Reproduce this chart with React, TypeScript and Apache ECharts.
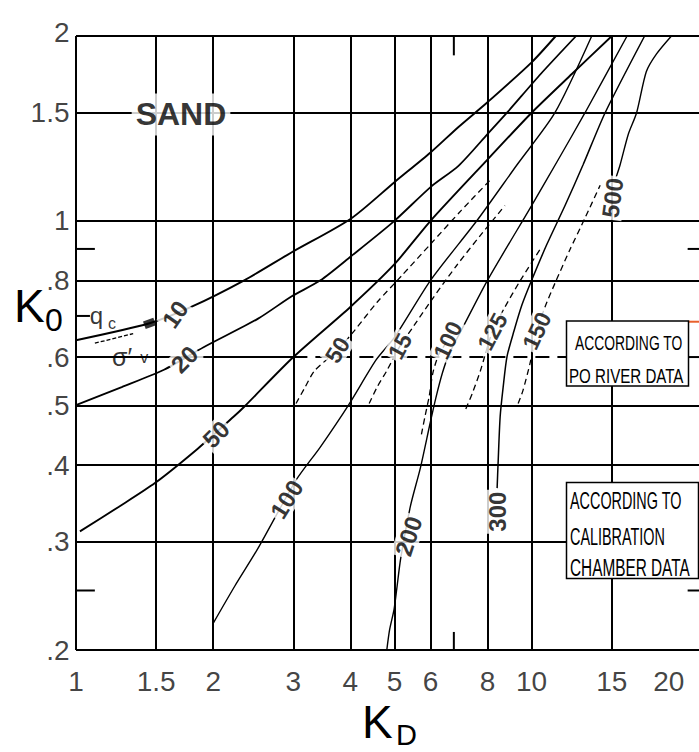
import React, { useEffect, useRef } from "react";
import * as echarts from "echarts";

// ---- axis ticks ----
const xTicks = [1, 1.5, 2, 3, 4, 5, 6, 8, 10, 15, 20];
const xTickLabels = ["1", "1.5", "2", "3", "4", "5", "6", "8", "10", "15", "20"];
const yTicks = [2, 1.5, 1, 0.8, 0.6, 0.5, 0.4, 0.3, 0.2];
const yTickLabels = ["2", "1.5", "1", ".8", ".6", ".5", ".4", ".3", ".2"];
const xGrid = [1, 1.5, 2, 3, 4, 5, 6, 8, 10, 15];
const yGrid = [2, 1.5, 1, 0.8, 0.5, 0.4, 0.3, 0.2];

// ---- calibration chamber curves (qc/σ'v) ----
const cc10 = [[1, 0.639], [1.45, 0.681], [1.79, 0.724], [2.34, 0.8], [2.97, 0.888], [4.01, 1.008], [5, 1.156], [6, 1.292], [6.91, 1.422], [8, 1.56], [10, 1.812], [11.3, 2]];
const cc20 = [[1, 0.501], [1.26, 0.536], [1.56, 0.572], [1.91, 0.623], [2.51, 0.693], [2.97, 0.753], [3.44, 0.8], [4.01, 0.875], [5, 1.0], [6, 1.135], [6.91, 1.229], [8, 1.384], [8.83, 1.5], [10.48, 1.736], [12.52, 2]];
const cc50 = [[1.02, 0.312], [1.24, 0.342], [1.49, 0.374], [1.85, 0.4255], [2.22, 0.48], [2.34, 0.498], [3, 0.6], [4, 0.724], [5, 0.85], [6, 1.0], [8, 1.258], [10, 1.5], [12.27, 1.736], [15, 2]];
const cc100 = [[2, 0.221], [2.23, 0.254], [2.51, 0.293], [3.04, 0.378], [3.44, 0.4285], [3.97, 0.502], [4.56, 0.594], [5, 0.6457], [6, 0.8], [7.61, 1.004], [9.29, 1.234], [11.25, 1.5], [13.55, 2]];
const cc200 = [[4.81, 0.2], [4.88, 0.216], [4.99, 0.233], [5.06, 0.252], [5.16, 0.282], [5.42, 0.343], [5.7, 0.396], [5.99, 0.469], [6.16, 0.514], [6.37, 0.565], [6.58, 0.6055], [7.0, 0.662], [8, 0.8], [10, 1.059], [11.37, 1.248], [13.1, 1.5], [16.2, 2]];
const cc300 = [[8.4, 0.367], [8.44, 0.402], [8.53, 0.48], [8.66, 0.536], [8.83, 0.601], [9.15, 0.662], [9.52, 0.729], [10, 0.8], [10.79, 0.914], [11.84, 1.059], [12.97, 1.234], [14.5, 1.5], [17.7, 2]];
const cc500 = [[15.33, 1.178], [15.64, 1.234], [16.3, 1.384], [17.0, 1.5], [17.85, 1.749], [18.8, 1.87], [20.27, 2]];

// ---- Po river curves ----
const po50 = [[3.04, 0.504], [3.17, 0.533], [3.34, 0.57], [3.75, 0.616], [4.08, 0.662], [4.58, 0.737], [5.19, 0.8145], [5.98, 0.914], [7.0, 1.039], [8.11, 1.165]];
const po15 = [[4.4, 0.504], [4.58, 0.536], [4.81, 0.57], [5.14, 0.625], [5.51, 0.674], [6.07, 0.748], [6.84, 0.845], [7.72, 0.947], [8.74, 1.059]];
const po100 = [[5.73, 0.449], [5.84, 0.482], [5.96, 0.518], [6.07, 0.565], [6.25, 0.605], [6.55, 0.639]];
const po125 = [[7.17, 0.494], [7.42, 0.525], [7.72, 0.57], [8.2, 0.66], [8.74, 0.724], [9.43, 0.798], [10.43, 0.898]];
const po150 = [[9.34, 0.504], [9.57, 0.529], [9.92, 0.586], [10.27, 0.662], [10.7, 0.724], [11.25, 0.791], [12.14, 0.898], [13.1, 1.011], [14.14, 1.143]];

// ---- curve labels: [kd, k0, text, rotation] ----
const ccLabels = [
  [1.65, 0.704, "10", 55],
  [1.73, 0.595, "20", 45],
  [2.03, 0.449, "50", 45],
  [2.9, 0.352, "100", 58],
  [5.37, 0.3065, "200", 72],
  [8.4, 0.336, "300", 90],
  [15.05, 1.09, "500", 82],
];
const poLabels = [
  [3.75, 0.616, "50", 58],
  [5.14, 0.625, "15", 62],
  [6.55, 0.639, "100", 65],
  [8.2, 0.66, "125", 62],
  [10.27, 0.662, "150", 65],
];

// ---- annotations ----
const qcFraction = [[1.1, 0.632], [1.335, 0.655]];
const markerPoint = [[1.45, 0.681]];
const gridSolid06 = [[1, 0.6], [3, 0.6]];
const gridDashed06 = [[3, 0.6], [11.94, 0.6]];
const gridRight06 = [[22, 0.6], [23.3, 0.6]];
const leftMinor = [0.9, 0.7, 0.25];
const rightMinor = [0.9, 0.25];
const rightOrange = [0.685];
const topBottomMinor = [6.75];

const NARROW = '"Liberation Sans Narrow", "Arial Narrow", "Liberation Sans", Arial, sans-serif';
const SANS = '"Liberation Sans", Arial, sans-serif';

export default function App() {
  const ref = useRef<HTMLDivElement>(null);
  useEffect(() => {
    document.body.style.margin = "0";
    const chart = echarts.init(ref.current as HTMLDivElement, null, { renderer: "svg" });

    const curve = (name: string, data: number[][], width: number, dashed: boolean) => ({
      type: "line",
      name,
      data,
      symbol: "none",
      showSymbol: false,
      smooth: 0.25,
      clip: false,
      silent: true,
      z: 3,
      lineStyle: { color: "#000", width, type: dashed ? [6, 4] : "solid" },
    });
    const seg = (data: number[][], color = "#000", width = 2, type: any = "solid") => ({
      type: "line",
      data,
      symbol: "none",
      showSymbol: false,
      clip: false,
      silent: true,
      z: 2,
      lineStyle: { color, width, type },
    });
    const labels = (items: any[], size: number, extra: any = {}) => ({
      type: "scatter",
      symbolSize: 1,
      itemStyle: { color: "rgba(0,0,0,0)" },
      silent: true,
      clip: false,
      z: 6,
      data: items.map((it) => ({ value: [it[0], it[1]], name: it[2], label: { rotate: it[3] } })),
      label: {
        show: true,
        position: "inside",
        formatter: "{b}",
        color: "#000",
        fontFamily: NARROW,
        fontWeight: "bold",
        fontSize: size,
        backgroundColor: "#fff",
        padding: [0, 2],
        ...extra,
      },
    });

    const series: any[] = [
      {
        type: "line",
        data: [[1, 0.2]],
        symbol: "none",
        lineStyle: { opacity: 0 },
        silent: true,
        z: 1,
        markLine: {
          silent: true,
          symbol: ["none", "none"],
          label: { show: false },
          lineStyle: { color: "#000", width: 2, type: "solid" },
          data: [...xGrid.map((v) => ({ xAxis: v })), ...yGrid.map((v) => ({ yAxis: v }))],
        },
      },
      seg(gridSolid06),
      seg(gridDashed06, "#000", 2, [14, 8]),
      seg(gridRight06),
      ...leftMinor.map((v) => seg([[1, v], [v === 0.7 ? 1.073 : 1.1, v]])),
      ...rightMinor.map((v) => seg([[22, v], [23.3, v]])),
      ...rightOrange.map((v) => seg([[22, v], [23.3, v]], "#e8602c")),
      ...topBottomMinor.map((v) => seg([[v, 2], [v, 1.86]])),
      ...topBottomMinor.map((v) => seg([[v, 0.2], [v, 0.214]])),
      curve("10", cc10, 1.9, false),
      curve("20", cc20, 1.8, false),
      curve("50", cc50, 1.9, false),
      curve("100", cc100, 1.4, false),
      curve("200", cc200, 1.4, false),
      curve("300", cc300, 1.5, false),
      curve("500", cc500, 1.4, false),
      curve("po50", po50, 1.3, true),
      curve("po15", po15, 1.3, true),
      curve("po100", po100, 1.3, true),
      curve("po125", po125, 1.3, true),
      curve("po150", po150, 1.3, true),
      seg(qcFraction, "#000", 1.3, [4, 2]),
      {
        type: "scatter",
        data: markerPoint,
        symbol: "rect",
        symbolSize: [11, 8],
        symbolRotate: 20,
        itemStyle: { color: "#000" },
        silent: true,
        z: 7,
      },
      labels(ccLabels, 24),
      labels(poLabels, 23),
      // axis tick labels
      {
        type: "scatter",
        symbolSize: 1,
        itemStyle: { color: "rgba(0,0,0,0)" },
        silent: true,
        clip: false,
        z: 6,
        data: xTicks.map((v, i) => ({ value: [v, 0.2], name: xTickLabels[i] })),
        label: { show: true, position: "bottom", distance: 17, formatter: "{b}", color: "#111", fontFamily: NARROW, fontSize: 28 },
      },
      {
        type: "scatter",
        symbolSize: 1,
        itemStyle: { color: "rgba(0,0,0,0)" },
        silent: true,
        clip: false,
        z: 6,
        data: yTicks.map((v, i) => ({ value: [1, v], name: yTickLabels[i], label: i === 0 ? { offset: [0, -4] } : {} })),
        label: { show: true, position: "left", distance: 6, formatter: "{b}", color: "#111", fontFamily: NARROW, fontSize: 28 },
      },
      // SAND, qc, σ'v
      {
        type: "scatter",
        symbolSize: 1,
        itemStyle: { color: "rgba(0,0,0,0)" },
        silent: true,
        clip: false,
        z: 8,
        data: [
          { value: [1.7, 1.49], name: "SAND", label: { fontSize: 32, fontWeight: "bold", fontFamily: SANS, backgroundColor: "#fff", padding: [5, 4] } },
          { value: [1.109, 0.702], name: "q", label: { fontSize: 24, fontFamily: SANS } },
          { value: [1.2, 0.68], name: "c", label: { fontSize: 16, fontFamily: SANS } },
          { value: [1.262, 0.6], name: "σ′", label: { fontSize: 25, fontFamily: SANS } },
          { value: [1.411, 0.6], name: "v", label: { fontSize: 16, fontFamily: SANS } },
        ],
        label: { show: true, position: "inside", formatter: "{b}", color: "#000" },
      },
    ];

    const boxText = (text: string, x: number, y: number, size: number, sx: number) => ({
      type: "text",
      x,
      y,
      scaleX: sx,
      z: 101,
      style: { text, fontSize: size, fontFamily: SANS, fill: "#000", align: "left", verticalAlign: "middle", textAlign: "left", textVerticalAlign: "middle" },
    });
    const title = (text: string, x: number, y: number, size: number) => ({
      type: "text",
      x,
      y,
      z: 101,
      style: { text, fontSize: size, fontFamily: SANS, fill: "#000", align: "left", verticalAlign: "middle", textAlign: "left", textVerticalAlign: "middle" },
    });

    chart.setOption({
      animation: false,
      backgroundColor: "#fff",
      grid: { left: 76, top: 36, right: 0, bottom: 102 },
      xAxis: {
        type: "log",
        logBase: 10,
        min: 1,
        max: 23.3,
        axisLine: { show: false },
        axisTick: { show: false },
        axisLabel: { show: false },
        splitLine: { show: false },
      },
      yAxis: {
        type: "log",
        logBase: 10,
        min: 0.2,
        max: 2,
        axisLine: { show: false },
        axisTick: { show: false },
        axisLabel: { show: false },
        splitLine: { show: false },
      },
      series,
      graphic: [
        { type: "rect", z: 100, shape: { x: 566.5, y: 321, width: 122, height: 65 }, style: { fill: "#fff", stroke: "#000", lineWidth: 1.5 } },
        boxText("ACCORDING TO", 575, 343, 21, 0.66),
        boxText("PO RIVER DATA", 569, 376, 21, 0.72),
        { type: "rect", z: 100, shape: { x: 566.5, y: 482.5, width: 132, height: 96 }, style: { fill: "#fff", stroke: "#000", lineWidth: 1.5 } },
        boxText("ACCORDING TO", 570, 501, 24, 0.6),
        boxText("CALIBRATION", 570, 537, 24, 0.6),
        boxText("CHAMBER DATA", 570, 568, 24, 0.64),
        title("K", 14, 306, 46),
        title("0", 45, 320, 32),
        title("K", 362, 722, 46),
        title("D", 396, 735, 29),
      ],
    });
    return () => chart.dispose();
  }, []);
  return <div ref={ref} style={{ position: "absolute", left: 0, top: 0, width: 699, height: 752 }} />;
}
